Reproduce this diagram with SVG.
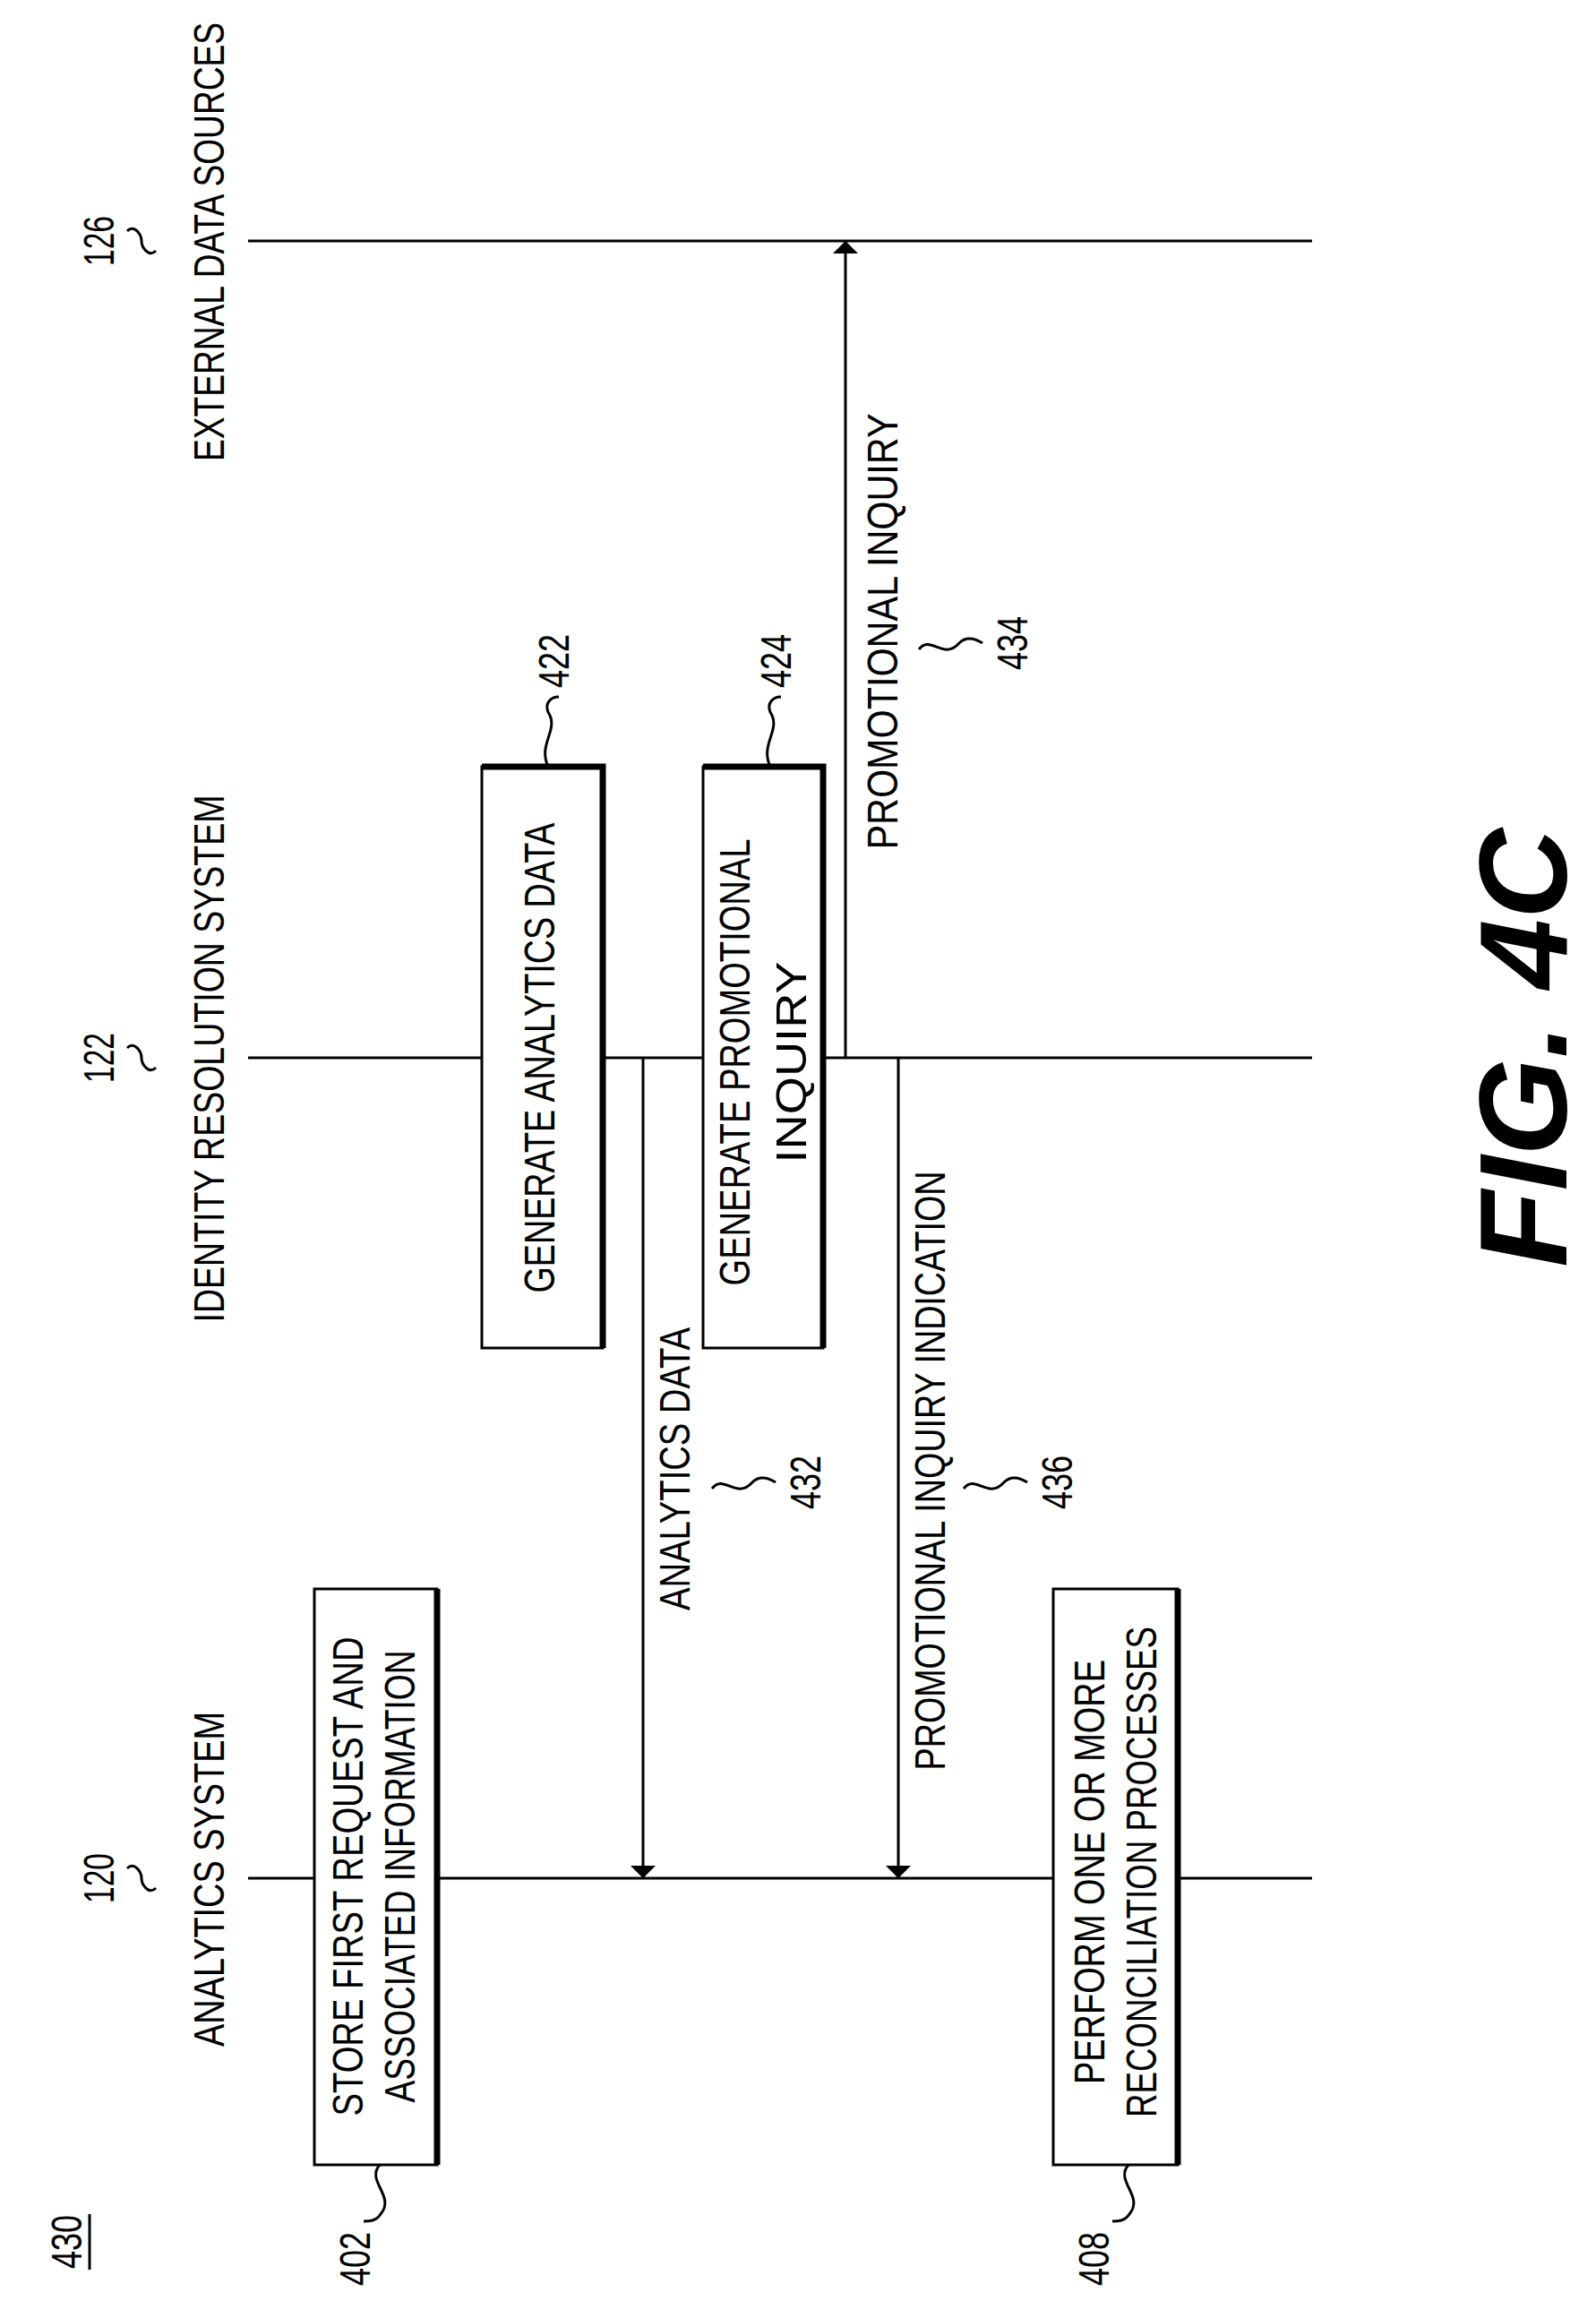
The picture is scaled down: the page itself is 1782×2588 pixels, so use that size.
<svg xmlns="http://www.w3.org/2000/svg" width="1782" height="2588" viewBox="0 0 1782 2588">
<style>
text{font-family:"Liberation Sans",Arial,sans-serif;font-size:48px;fill:#000;text-anchor:middle;dominant-baseline:central}
.ln{stroke:#000;stroke-width:3;fill:none}
.box{stroke:#000;stroke-width:3;fill:#fff}
.thick{stroke:#000;stroke-width:7;fill:none}
.fig{font-size:140px;font-weight:bold;font-style:italic}
</style>
<defs>
<marker id="ah" viewBox="0 0 10 10" refX="10" refY="5" markerWidth="14" markerHeight="28" markerUnits="userSpaceOnUse" orient="auto" preserveAspectRatio="none"><path d="M0,0 L10,5 L0,10 z" fill="#000"/></marker>
</defs>
<g id="lifelines">
<line class="ln" x1="277" y1="269" x2="1465" y2="269"/>
<line class="ln" x1="277" y1="1181" x2="1465" y2="1181"/>
<line class="ln" x1="277" y1="2097" x2="1465" y2="2097"/>
<text transform="translate(233,270) rotate(-90)" textLength="490" lengthAdjust="spacingAndGlyphs">EXTERNAL DATA SOURCES</text>
<text transform="translate(233,1182) rotate(-90)" textLength="589" lengthAdjust="spacingAndGlyphs">IDENTITY RESOLUTION SYSTEM</text>
<text transform="translate(233,2098) rotate(-90)" textLength="374" lengthAdjust="spacingAndGlyphs">ANALYTICS SYSTEM</text>
<text transform="translate(110,269) rotate(-90)" textLength="56" lengthAdjust="spacingAndGlyphs">126</text>
<text transform="translate(110,1181) rotate(-90)" textLength="56" lengthAdjust="spacingAndGlyphs">122</text>
<text transform="translate(110,2097) rotate(-90)" textLength="56" lengthAdjust="spacingAndGlyphs">120</text>
<path class="ln" d="M142,258 C150,250 158,262 158,269 C158,276 166,288 174,280"/>
<path class="ln" d="M142,1170 C150,1162 158,1174 158,1181 C158,1188 166,1200 174,1192"/>
<path class="ln" d="M142,2086 C150,2078 158,2090 158,2097 C158,2104 166,2116 174,2108"/>
</g>
<g id="n422">
<rect class="box" x="538" y="856" width="135" height="649"/>
<path class="thick" d="M538,856 H673 V1505"/>
<text transform="translate(602,1181) rotate(-90)" textLength="525" lengthAdjust="spacingAndGlyphs">GENERATE ANALYTICS DATA</text>
<text transform="translate(618,738) rotate(-90)" textLength="60" lengthAdjust="spacingAndGlyphs">422</text>
<path class="ln" d="M612,856 C600,830 625,815 612,795 C608,785 615,778 624,778"/>
</g>
<g id="n424">
<rect class="box" x="785" y="856" width="134" height="649"/>
<path class="thick" d="M785,856 H919 V1505"/>
<text transform="translate(820,1186) rotate(-90)" textLength="499" lengthAdjust="spacingAndGlyphs">GENERATE PROMOTIONAL</text>
<text transform="translate(883,1186) rotate(-90)" textLength="225" lengthAdjust="spacingAndGlyphs">INQUIRY</text>
<text transform="translate(866,738) rotate(-90)" textLength="60" lengthAdjust="spacingAndGlyphs">424</text>
<path class="ln" d="M860,856 C848,830 873,815 860,795 C856,785 863,778 872,778"/>
</g>
<g id="n402">
<rect class="box" x="351" y="1774" width="137" height="643"/>
<path class="thick" d="M488,1774 V2417"/>
<text transform="translate(388,2095) rotate(-90)" textLength="535" lengthAdjust="spacingAndGlyphs">STORE FIRST REQUEST AND</text>
<text transform="translate(446,2095) rotate(-90)" textLength="505" lengthAdjust="spacingAndGlyphs">ASSOCIATED INFORMATION</text>
<text transform="translate(396,2522) rotate(-90)" textLength="60" lengthAdjust="spacingAndGlyphs">402</text>
<path class="ln" d="M424,2417 C408,2435 442,2452 425,2472 C420,2480 412,2480 406,2480"/>
</g>
<g id="n408">
<rect class="box" x="1176" y="1774" width="139" height="643"/>
<path class="thick" d="M1315,1774 V2417"/>
<text transform="translate(1216,2090) rotate(-90)" textLength="474" lengthAdjust="spacingAndGlyphs">PERFORM ONE OR MORE</text>
<text transform="translate(1274,2090) rotate(-90)" textLength="548" lengthAdjust="spacingAndGlyphs">RECONCILIATION PROCESSES</text>
<text transform="translate(1221,2522) rotate(-90)" textLength="60" lengthAdjust="spacingAndGlyphs">408</text>
<path class="ln" d="M1260,2417 C1244,2435 1278,2452 1261,2472 C1256,2480 1248,2480 1242,2480"/>
</g>
<g id="connectors">
<line class="ln" x1="718" y1="1181" x2="718" y2="2097" marker-end="url(#ah)"/>
<line class="ln" x1="1003" y1="1181" x2="1003" y2="2097" marker-end="url(#ah)"/>
<line class="ln" x1="944" y1="1181" x2="944" y2="269" marker-end="url(#ah)"/>
<text transform="translate(753,1640) rotate(-90)" textLength="316" lengthAdjust="spacingAndGlyphs">ANALYTICS DATA</text>
<text transform="translate(899,1655) rotate(-90)" textLength="60" lengthAdjust="spacingAndGlyphs">432</text>
<path class="ln" d="M795,1662 C808,1645 822,1675 840,1655 C848,1647 858,1650 866,1655"/>
<text transform="translate(1038,1642) rotate(-90)" textLength="669" lengthAdjust="spacingAndGlyphs">PROMOTIONAL INQUIRY INDICATION</text>
<text transform="translate(1180,1655) rotate(-90)" textLength="60" lengthAdjust="spacingAndGlyphs">436</text>
<path class="ln" d="M1076,1662 C1089,1645 1103,1675 1121,1655 C1129,1647 1139,1650 1147,1655"/>
<text transform="translate(985,705) rotate(-90)" textLength="487" lengthAdjust="spacingAndGlyphs">PROMOTIONAL INQUIRY</text>
<text transform="translate(1130,718) rotate(-90)" textLength="60" lengthAdjust="spacingAndGlyphs">434</text>
<path class="ln" d="M1026,725 C1039,708 1053,738 1071,718 C1079,710 1089,713 1097,718"/>
</g>
<g id="labels">
<text transform="translate(74,2503) rotate(-90)" textLength="60" lengthAdjust="spacingAndGlyphs">430</text>
<line class="ln" x1="100" y1="2472" x2="100" y2="2534"/>
<text class="fig" transform="translate(1700,1170) rotate(-90)">FIG. 4C</text>
</g>
</svg>
